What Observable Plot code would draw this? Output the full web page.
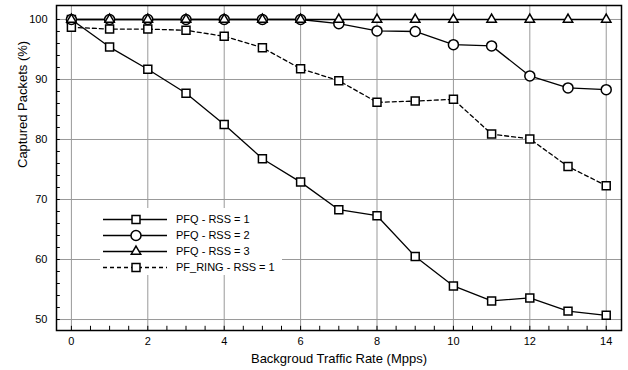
<!DOCTYPE html>
<html><head><meta charset="utf-8">
<script src="https://cdn.jsdelivr.net/npm/d3@7"></script>
<script src="https://cdn.jsdelivr.net/npm/@observablehq/plot@0.6"></script>
<style>
body{margin:0;background:#fff}
svg{font-family:"Liberation Sans",Arial,Helvetica,sans-serif}
</style>
</head><body><div id="chart"></div>
<script>
const rates = [0,1,2,3,4,5,6,7,8,9,10,11,12,13,14];
const pfqRss1 = [100,95.4,91.7,87.7,82.5,76.8,72.9,68.3,67.3,60.5,55.6,53.1,53.6,51.4,50.7];
const pfqRss2 = [100,100,100,100,100,100,100,99.3,98.1,98.0,95.8,95.6,90.6,88.6,88.3];
const pfqRss3 = [100,100,100,100,100,100,100,100,100,100,100,100,100,100,100];
const pfRing1 = [98.7,98.4,98.4,98.2,97.2,95.3,91.8,89.8,86.2,86.4,86.7,80.9,80.1,75.5,72.3];
const seriesNames = ["PFQ - RSS = 1","PFQ - RSS = 2","PFQ - RSS = 3","PF_RING - RSS = 1"];
const xTicks = [0,2,4,6,8,10,12,14];
const yTicks = [50,60,70,80,90,100];
const xMinor = d3.range(0, 14.01, 0.5);
const yMinor = d3.range(50, 100.01, 2);
const xDomain = [-0.39, 14.4];
const yDomain = [48.17, 102.33];
const xLabel = "Backgroud Traffic Rate (Mpps)";
const yLabel = "Captured Packets (%)";

const seriesDefs = [
  {name: seriesNames[0], values: pfqRss1, symbol: "square", r: 4.5, dash: null},
  {name: seriesNames[3], values: pfRing1, symbol: "square", r: 4.5, dash: "4,3"},
  {name: seriesNames[1], values: pfqRss2, symbol: "circle", r: 5, dash: null},
  {name: seriesNames[2], values: pfqRss3, symbol: "triangle", r: 3.5, dash: null}
];

const marks = [
  Plot.ruleX(xTicks, {stroke: "#999", strokeWidth: 1}),
  Plot.ruleY(yTicks, {stroke: "#999", strokeWidth: 1}),
  Plot.ruleX(xMinor, {x: d => d, y1: yDomain[0], y2: yDomain[0] + 0.7, stroke: "black", strokeWidth: 1}),
  Plot.ruleY(yMinor, {y: d => d, x1: xDomain[0], x2: xDomain[0] + 0.1, stroke: "black", strokeWidth: 1}),
  Plot.axisX({ticks: xTicks, tickSize: 0, tickPadding: 7, fontSize: 11, label: null}),
  Plot.axisY({ticks: yTicks, tickSize: 0, tickPadding: 9, fontSize: 11, label: null}),
  Plot.text([xLabel], {text: d => d, frameAnchor: "bottom", lineAnchor: "middle", dy: 28, fontSize: 13}),
  Plot.text([yLabel], {text: d => d, frameAnchor: "left", lineAnchor: "middle", dx: -34, rotate: -90, fontSize: 13})
];
for (const s of seriesDefs) {
  const rows = rates.map((x, i) => ({x, y: s.values[i]}));
  marks.push(Plot.line(rows, {x: "x", y: "y", stroke: "black", strokeWidth: 1.3, strokeDasharray: s.dash}));
}
for (const s of seriesDefs) {
  const rows = rates.map((x, i) => ({x, y: s.values[i]}));
  marks.push(Plot.dot(rows, {x: "x", y: "y", symbol: s.symbol, r: s.r, fill: "white", stroke: "black", strokeWidth: 1.5}));
}
marks.push(Plot.frame({stroke: "black", strokeWidth: 1.5}));

const chart = Plot.plot({
  width: 628, height: 370,
  marginLeft: 56, marginRight: 7, marginTop: 5, marginBottom: 40,
  style: {fontFamily: '"Liberation Sans",Arial,sans-serif', background: "white"},
  x: {domain: xDomain, label: null},
  y: {domain: yDomain, label: null},
  marks
});
document.getElementById("chart").appendChild(chart);

// Legend inside the plot
const svg = d3.select(chart);
const lg = svg.append("g").attr("text-anchor", "start");
lg.append("rect").attr("x", 100).attr("y", 208).attr("width", 182).attr("height", 67).attr("fill", "white");
const legendItems = [
  {name: seriesNames[0], symbol: d3.symbolSquare, r: 4.5, dash: null},
  {name: seriesNames[1], symbol: d3.symbolCircle, r: 5, dash: null},
  {name: seriesNames[2], symbol: d3.symbolTriangle, r: 3.5, dash: null},
  {name: seriesNames[3], symbol: d3.symbolSquare, r: 4.5, dash: "4,3"}
];
legendItems.forEach((it, i) => {
  const y = 219.5 + i * 16;
  lg.append("line").attr("x1", 103).attr("x2", 167).attr("y1", y).attr("y2", y)
    .attr("stroke", "black").attr("stroke-width", 1.3).attr("stroke-dasharray", it.dash);
  lg.append("path").attr("d", d3.symbol(it.symbol, it.r * it.r * Math.PI)())
    .attr("transform", `translate(136,${y})`).attr("fill", "white").attr("stroke", "black").attr("stroke-width", 1.5);
  lg.append("text").attr("x", 176).attr("y", y).attr("dy", "0.35em")
    .attr("font-size", 11).attr("text-anchor", "start").text(it.name);
});
</script>
</body></html>
